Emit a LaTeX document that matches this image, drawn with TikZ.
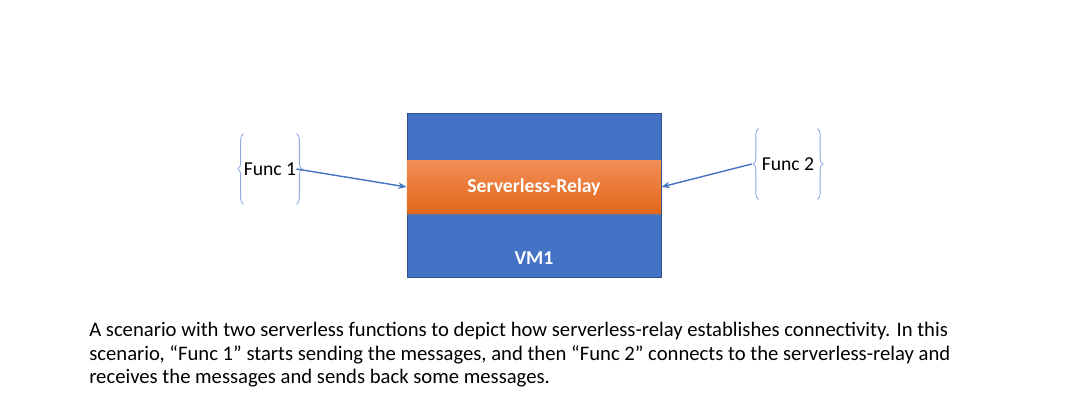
\documentclass[tikz,border=0pt]{standalone}
\usepackage{fontspec}
\setmainfont{Carlito}
\usetikzlibrary{arrows.meta,decorations.pathreplacing,shadows}
\definecolor{vmblue}{HTML}{4472C4}
\definecolor{vmedge}{HTML}{2F528F}
\definecolor{relaytop}{HTML}{F28D55}
\definecolor{relaybot}{HTML}{E2671B}
\definecolor{linkblue}{HTML}{4472C4}
\definecolor{bracecol}{HTML}{8FAADC}

\begin{document}
\begin{tikzpicture}[x=0.025cm,y=-0.025cm,
    fbrace/.style = {draw=bracecol, line width=0.6pt, decorate, decoration={brace, amplitude=4pt, aspect=0.5}},
    link/.style = {draw=linkblue, line width=1pt, -{Stealth[length=6pt,width=4.5pt]}},
    func/.style = {minimum height=1.75cm, inner sep=0pt, font=\fontsize{14}{16}\selectfont}]
        \useasboundingbox (0,0) rectangle (1080,400);
        % vm
        \node[draw=vmedge, fill=vmblue, minimum width=6.35cm, minimum height=4.1cm, inner sep=0pt](vm)at(534,195){};
        \node[text=white, font=\fontsize{14}{16}\selectfont\bfseries](vmlabel)at(534,258){VM1};
        % relay
        \node[top color=relaytop, bottom color=relaybot, minimum width=6.35cm, minimum height=1.3cm, inner sep=0pt,
              drop shadow={shadow xshift=0pt, shadow yshift=-2pt, opacity=0.35},
              text=white, font=\fontsize{14}{16}\selectfont\bfseries](relay)at(534,187){Serverless-Relay};
        % functions
        \node[func, minimum width=1.28cm](f1)at(270,169){Func 1};
        \node[func, minimum width=1.45cm](f2)at(788,164){Func 2};
        \path[fbrace](f1.south west)to(f1.north west);
        \path[fbrace](f1.north east)to(f1.south east);
        \path[fbrace](f2.south west)to(f2.north west);
        \path[fbrace](f2.north east)to(f2.south east);
        % links
        \path[link](f1.east)to(relay.west);
        \path[link]([xshift=-5pt]f2.west)to(relay.east);
        % caption
        \node[anchor=north west, inner sep=0pt, align=left, font=\fontsize{14.7}{16.7}\selectfont](caption)at(89,322){A scenario with two serverless functions to depict how serverless-relay establishes connectivity. In this\\
scenario, “Func 1” starts sending the messages, and then “Func 2” connects to the serverless-relay and\\
receives the messages and sends back some messages.};
\end{tikzpicture}
\end{document}
